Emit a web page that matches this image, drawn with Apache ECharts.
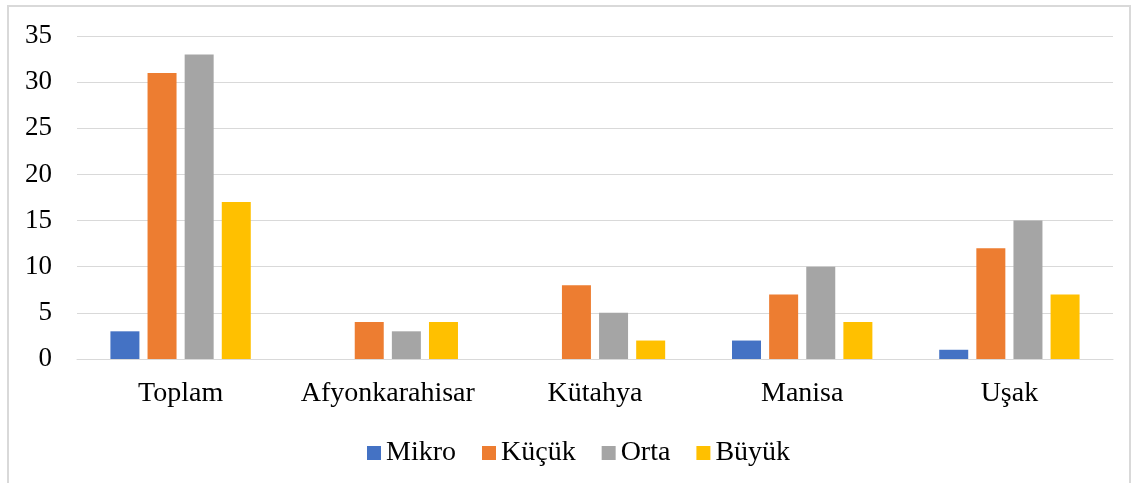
<!DOCTYPE html>
<html>
<head>
<meta charset="utf-8">
<script src="https://cdn.jsdelivr.net/npm/echarts@6/dist/echarts.min.js"></script>
<style>
  html, body { margin: 0; padding: 0; background: #fff; }
  #chart { width: 1135px; height: 483px; }
</style>
</head>
<body>
<div id="chart"></div>
<script>
  // veriler
  const categories = ["Toplam", "Afyonkarahisar", "Kütahya", "Manisa", "Uşak"];
  const mikro = [3, 0, 0, 2, 1];
  const kucuk = [31, 4, 8, 7, 12];
  const orta = [33, 3, 5, 10, 15];
  const buyuk = [17, 4, 2, 4, 7];
  const yTicks = { min: 0, max: 35, interval: 5 };

  const font = "'Liberation Serif', 'Times New Roman', serif";

  var chartDom = document.getElementById("chart");
  var myChart = echarts.init(chartDom, null, { renderer: "canvas" });

  function bar(name, data, color) {
    return {
      name: name,
      type: "bar",
      data: data.map((v) => (v === 0 ? null : v)),
      barWidth: 29,
      barGap: "28%",
      itemStyle: { color: color },
    };
  }

  var option = {
    animation: false,
    textStyle: { fontFamily: font },
    graphic: [
      {
        type: "rect",
        shape: { x: 8, y: 6, width: 1122, height: 500 },
        style: { fill: "none", stroke: "#d9d9d9", lineWidth: 2 },
        silent: true,
      },
    ],
    grid: { left: 77, right: 22, top: 36, bottom: 124 },
    legend: {
      left: 362,
      top: 434,
      itemWidth: 14,
      itemHeight: 14,
      itemGap: 26,
      icon: "rect",
      textStyle: { fontFamily: font, fontSize: 28, color: "#000" },
      data: ["Mikro", "Küçük", "Orta", "Büyük"],
    },
    xAxis: {
      type: "category",
      data: categories,
      axisLine: { lineStyle: { color: "#d9d9d9", width: 1 } },
      axisTick: { show: false },
      axisLabel: { fontFamily: font, fontSize: 28, color: "#000", margin: 21, interval: 0 },
    },
    yAxis: {
      type: "value",
      min: yTicks.min,
      max: yTicks.max,
      interval: yTicks.interval,
      axisLine: { show: false },
      axisTick: { show: false },
      splitLine: { lineStyle: { color: "#d9d9d9", width: 1 } },
      axisLabel: { fontFamily: font, fontSize: 27, color: "#000", margin: 25 },
    },
    series: [
      bar("Mikro", mikro, "#4472c4"),
      bar("Küçük", kucuk, "#ed7d31"),
      bar("Orta", orta, "#a5a5a5"),
      bar("Büyük", buyuk, "#ffc000"),
    ],
  };

  myChart.setOption(option);
</script>
</body>
</html>
